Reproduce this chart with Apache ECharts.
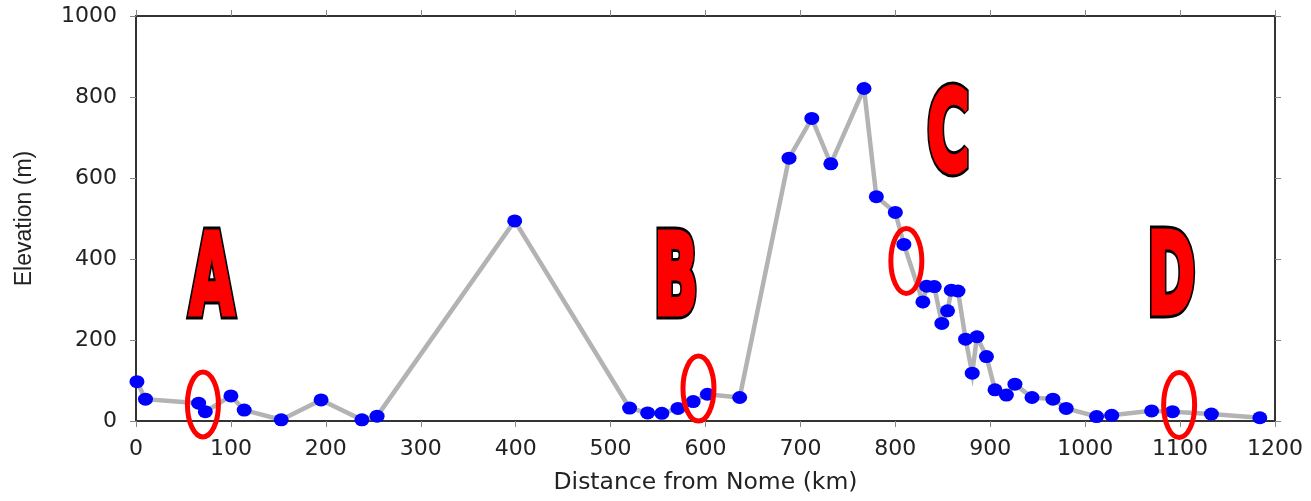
<!DOCTYPE html>
<html>
<head>
<meta charset="utf-8">
<script src="https://cdn.jsdelivr.net/npm/echarts@6/dist/echarts.min.js"></script>
<style>
html,body{margin:0;padding:0;background:#fff;}
#chart{width:1311px;height:501px;}
</style>
</head>
<body>
<div id="chart"></div>
<script>
// Distance from Nome (km) and elevation (m) of each checkpoint
const distanceKm = [1, 10, 66, 73, 100, 114, 153, 195, 238, 254, 399, 520, 539, 554, 571, 587, 602, 636, 688, 712, 732, 767, 780, 800, 809, 829, 833, 841, 849, 855, 859, 866, 874, 881, 886, 896, 905, 917, 926, 944, 966, 980, 1012, 1028, 1070, 1092, 1133, 1184];
const elevationM = [97, 54, 44, 23, 62, 27, 3, 52, 3, 12, 494, 32, 20, 19, 31, 48, 66, 58, 649, 747, 635, 821, 554, 515, 436, 294, 333, 332, 241, 272, 323, 321, 202, 118, 208, 159, 77, 64, 91, 58, 54, 31, 11, 14, 25, 23, 17, 8];

// Axis ticks
const xMin = 0, xMax = 1200, xStep = 100;
const yMin = 0, yMax = 1000, yStep = 200;

// Annotation letters (placed in data coordinates)
const letterText = ['A', 'B', 'C', 'D'];
const letterDist = [80, 569, 856, 1091];
const letterElev = [362, 363, 719, 365];

// Red highlight ellipses (centres in data coordinates)
const ringDist = [70.5, 592.6, 811.6, 1099];
const ringElev = [41, 80, 395, 39.5];

const chart = echarts.init(document.getElementById('chart'), null, {renderer: 'canvas'});

const axisLineStyle = {color: '#333', width: 2};
const tickStyle = {show: true, inside: false, length: 6, lineStyle: {color: '#888', width: 1}};
const plainNum = v => String(v);

const option = {
  animation: false,
  backgroundColor: '#fff',
  grid: {left: 136, right: 36, top: 16, bottom: 80, containLabel: false},
  xAxis: [
    {
      type: 'value', position: 'bottom', min: xMin, max: xMax, interval: xStep,
      name: 'Distance from Nome (km)', nameLocation: 'middle', nameGap: 50,
      nameTextStyle: {fontFamily: 'DejaVu Sans', fontSize: 23.5, color: '#222'},
      axisLine: {show: true, onZero: false, lineStyle: axisLineStyle},
      axisTick: tickStyle,
      axisLabel: {show: true, formatter: plainNum, fontFamily: 'DejaVu Sans', fontSize: 22, color: '#222', margin: 17},
      splitLine: {show: false}
    },
    {
      type: 'value', position: 'top', min: xMin, max: xMax, interval: xStep,
      axisLine: {show: true, onZero: false, lineStyle: axisLineStyle},
      axisTick: tickStyle,
      axisLabel: {show: false},
      splitLine: {show: false}
    }
  ],
  yAxis: [
    {
      type: 'value', position: 'left', min: yMin, max: yMax, interval: yStep,
      name: 'Elevation (m)', nameLocation: 'middle', nameGap: 100, nameRotate: 90,
      nameTextStyle: {fontFamily: 'Liberation Sans', fontSize: 23, color: '#222'},
      axisLine: {show: true, onZero: false, lineStyle: axisLineStyle},
      axisTick: tickStyle,
      axisLabel: {show: true, formatter: plainNum, fontFamily: 'DejaVu Sans', fontSize: 22, color: '#222', margin: 19},
      splitLine: {show: false}
    },
    {
      type: 'value', position: 'right', min: yMin, max: yMax, interval: yStep,
      axisLine: {show: true, onZero: false, lineStyle: axisLineStyle},
      axisTick: tickStyle,
      axisLabel: {show: false},
      splitLine: {show: false}
    }
  ],
  series: [
    {
      type: 'line',
      xAxisIndex: 0, yAxisIndex: 0,
      data: distanceKm.map((d, i) => [d, elevationM[i]]),
      showSymbol: true,
      symbol: 'circle',
      symbolSize: [15, 13],
      clip: false,
      itemStyle: {color: '#0000ff', borderWidth: 0},
      lineStyle: {color: '#b3b3b3', width: 4.5, join: 'miter', miterLimit: 10},
      z: 2
    },
    {
      type: 'custom',
      xAxisIndex: 0, yAxisIndex: 0,
      clip: false,
      z: 5,
      data: ringDist.map((d, i) => [d, ringElev[i]]),
      renderItem: function (params, api) {
        const p = api.coord([api.value(0), api.value(1)]);
        const rx = 15.5, ry = 32.5;
        const path = 'M' + (p[0] - rx) + ' ' + p[1] +
          ' A' + rx + ' ' + ry + ' 0 1 0 ' + (p[0] + rx) + ' ' + p[1] +
          ' A' + rx + ' ' + ry + ' 0 1 0 ' + (p[0] - rx) + ' ' + p[1] + ' Z';
        return {
          type: 'path',
          shape: {pathData: path},
          style: {fill: 'none', stroke: '#ff0000', lineWidth: 5}
        };
      }
    },
    {
      type: 'custom',
      xAxisIndex: 0, yAxisIndex: 0,
      clip: false,
      z: 6,
      data: letterDist.map((d, i) => [d, letterElev[i]]),
      renderItem: function (params, api) {
        const p = api.coord([api.value(0), api.value(1)]);
        const txt = letterText[params.dataIndex];
        const base = {
          text: txt, x: 0, y: 0,
          font: 'bold 112px "DejaVu Sans"',
          align: 'center', verticalAlign: 'middle'
        };
        return {
          type: 'group',
          x: p[0], y: p[1] + 11,
          scaleX: 0.515,
          children: [
            {type: 'text', style: Object.assign({}, base, {fill: '#ff0000', stroke: '#000', lineWidth: 11})},
            {type: 'text', style: Object.assign({}, base, {fill: '#ff0000', stroke: '#ff0000', lineWidth: 5})}
          ]
        };
      }
    }
  ]
};

chart.setOption(option);
</script>
</body>
</html>
